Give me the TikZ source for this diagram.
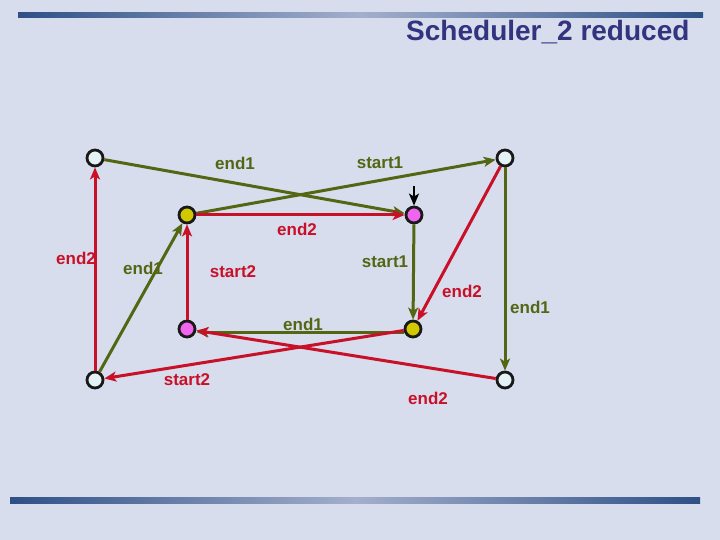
\documentclass[tikz,border=0pt]{standalone}
\usepackage{fontspec}
\setmainfont{Liberation Sans}
\usetikzlibrary{arrows.meta,calc}
\definecolor{bg}{RGB}{215,221,236}
\definecolor{bar}{RGB}{46,80,134}
\definecolor{barmid}{RGB}{163,175,204}
\definecolor{ttl}{RGB}{50,52,128}
\definecolor{olv}{RGB}{84,102,20}
\definecolor{rd}{RGB}{200,16,40}
\definecolor{wst}{RGB}{228,242,244}
\definecolor{yst}{RGB}{210,200,0}
\definecolor{mst}{RGB}{240,100,240}
\begin{document}
\begin{tikzpicture}[x=1pt,y=-1pt,>={Stealth[length=12pt,width=10pt,inset=3pt]},
  font=\bfseries\fontsize{17}{20}\selectfont,
  st/.style={draw=black!90,circle,line width=2.8pt,minimum size=16pt,inner sep=0pt},
  og/.style={olv,line width=3pt,->}, rg/.style={rd,line width=3pt,->},
  ol/.style={text=olv,inner sep=1pt}, rl/.style={text=rd,inner sep=1pt}]
  \fill[bg] (0,0) rectangle (720,540);
  \shade[left color=bar,right color=bar,middle color=barmid] (18,13) rectangle (703,18);
  \shade[left color=bar,right color=bar,middle color=barmid] (10,497) rectangle (700,503);
  \node[anchor=east,text=ttl,font=\bfseries\fontsize{28}{32}\selectfont] (title) at (693,32) {Scheduler\_2 reduced};
  % states
  \node[st,fill=wst](a) at (95,158){};
  \node[st,fill=wst](b) at (505,158){};
  \node[st,fill=yst](c) at (187,215){};
  \node[st,fill=mst](d) at (414,215){};
  \node[st,fill=mst](e) at (187,329){};
  \node[st,fill=yst](f) at (413,329){};
  \node[st,fill=wst](g) at (95,380){};
  \node[st,fill=wst](h) at (505,380){};
  \coordinate(init) at (414,186);
  \draw[->,line width=2.2pt](init)--(d);
  % transitions
  \draw[og](a)--(d); \draw[og](c)--(b); \draw[rg](c)--(d);
  \draw[og](d)--(f); \draw[rg](b)--(f); \draw[og](b)--(h);
  \draw[og]([yshift=-3pt]f.west)--([yshift=-3pt]e.east);
  \draw[rg](f)--(g); \draw[rg](h)--(e);
  \draw[rg](e)--(c); \draw[og](g)--(c); \draw[rg](g)--(a);
  % labels
  \node[ol](l1) at (235,163){end1};
  \node[ol](l2) at (380,163){start1};
  \node[rl](l3) at (297,229){end2};
  \node[rl](l4) at (76,258){end2};
  \node[ol](l5) at (143,268){end1};
  \node[rl](l6) at (233,272){start2};
  \node[ol](l7) at (385,262){start1};
  \node[rl](l8) at (462,291){end2};
  \node[ol](l9) at (530,307){end1};
  \node[ol](l10) at (303,324){end1};
  \node[rl](l11) at (187,380){start2};
  \node[rl](l12) at (428,398){end2};
\end{tikzpicture}
\end{document}
